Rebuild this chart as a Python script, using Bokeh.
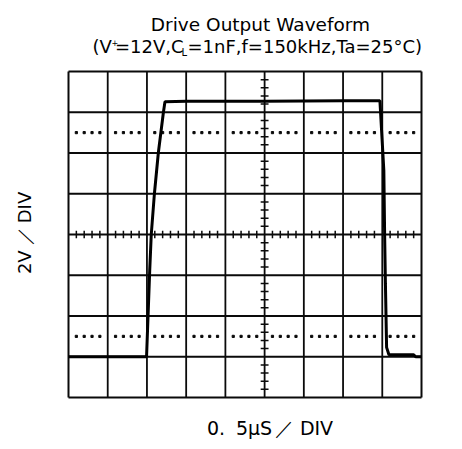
import math
from bokeh.plotting import figure
from bokeh.models import Label, Range1d
from bokeh.embed import file_html
from bokeh.resources import INLINE

# ---- data (in scope divisions) ----
n_cols = 9
n_rows = 8
center_col = 5
center_row = 4
dotted_rows = [1.5, 6.5]

wave_x = [0.0, 1.99, 2.07, 2.11, 2.19, 2.29, 2.42, 2.46, 3.0, 5.0, 7.0, 7.94,
          8.04, 8.06, 8.08, 8.11, 8.17, 8.5, 8.8, 8.85, 9.0]
wave_y = [1.0, 1.0, 3.1, 4.0, 5.0, 6.0, 7.0, 7.26, 7.27, 7.27, 7.28, 7.28,
          5.56, 4.0, 2.8, 1.23, 1.05, 1.05, 1.05, 1.0, 1.0]

title_line1 = "Drive Output Waveform"
title_pieces = ["(V", "+", "=12V,C", "L", "=1nF,f=150kHz,Ta=25°C)"]
x_label_pieces = ["0.", "5μS", "／", "DIV"]
y_label_pieces = ["2V", "／", "DIV"]

# ---- layout (page pixels) ----
W, H = 454, 441
GL, GT, GW, GH = 68, 71, 353, 326      # grid box
px_per_x = GW / n_cols
px_per_y = GH / n_rows
x0 = -GL / px_per_x
x1 = (W - GL) / px_per_x
y0 = -(H - GT - GH) / px_per_y
y1 = n_rows + GT / px_per_y

p = figure(width=W, height=H, x_range=Range1d(x0, x1), y_range=Range1d(y0, y1),
           x_axis_type=None, y_axis_type=None, output_backend="svg",
           toolbar_location=None, min_border=0)
p.grid.visible = False
p.outline_line_color = None
p.background_fill_color = "white"
p.border_fill_color = "white"

INK = "#0a0a0a"
# grid lines
vx = list(range(1, n_cols))
p.segment(x0=vx, y0=[0] * len(vx), x1=vx, y1=[n_rows] * len(vx), line_color=INK, line_width=1.8)
hy = list(range(1, n_rows))
p.segment(x0=[0] * len(hy), y0=hy, x1=[n_cols] * len(hy), y1=hy, line_color=INK, line_width=1.8)
# border
p.segment(x0=[0, 0, 0, n_cols], y0=[0, n_rows, 0, 0], x1=[n_cols, n_cols, 0, n_cols],
          y1=[0, n_rows, n_rows, n_rows], line_color=INK, line_width=2)

# minor ticks on center axes
tx = [i / 5 for i in range(1, n_cols * 5) if i % 5 != 0]
p.segment(x0=tx, y0=[center_row - 0.09] * len(tx), x1=tx, y1=[center_row + 0.09] * len(tx),
          line_color=INK, line_width=1.5)
ty = [i / 5 for i in range(1, n_rows * 5) if i % 5 != 0]
p.segment(x0=[center_col - 0.1] * len(ty), y0=ty, x1=[center_col + 0.1] * len(ty), y1=ty,
          line_color=INK, line_width=1.5)

# dotted reference rows
dx = [i / 5 for i in range(1, n_cols * 5) if i % 5 != 0]
for r in dotted_rows:
    p.scatter(x=dx, y=[r] * len(dx), marker="square", size=2.2, color=INK)

# waveform
p.line(wave_x, wave_y, line_color="black", line_width=3)

SHIFT = 0.34  # baseline correction (em)

def sx(px):
    return px

def sy(py, fs):  # page y of baseline -> screen y (upwards)
    return H - (py - SHIFT * fs)

FONT = "DejaVu Sans"
p.add_layout(Label(x=sx(260), y=sy(30.7, 18.5), x_units="screen", y_units="screen", text=title_line1,
                   text_font=FONT, text_font_size="18.5px", text_align="center",
                   text_baseline="alphabetic", text_color="black"))

# second title line, pieces with super/subscripts
tp_x = [92, 111, 114.5, 181, 187]
tp_y = [51.7, 44.5, 51.7, 55.0, 51.7]
tp_size = [18, 8, 18, 10, 18]
for t, xx, yy, fs in zip(title_pieces, tp_x, tp_y, tp_size):
    p.add_layout(Label(x=sx(xx), y=sy(yy, fs), x_units="screen", y_units="screen", text=t,
                       text_font=FONT, text_font_size=f"{fs}px", text_align="left",
                       text_baseline="alphabetic", text_color="black"))

# x label
xl_x = [215.5, 253.5, 284, 316]
for t, xx in zip(x_label_pieces, xl_x):
    p.add_layout(Label(x=sx(xx), y=sy(433.5, 19), x_units="screen", y_units="screen", text=t,
                       text_font=FONT, text_font_size="19px", text_align="center",
                       text_baseline="alphabetic", text_color="black"))

# y label (rotated)
yl_y = [261.7, 235, 207]
for t, yy in zip(y_label_pieces, yl_y):
    p.add_layout(Label(x=sx(30.5 - SHIFT * 18), y=H - yy, x_units="screen", y_units="screen", text=t,
                       text_font=FONT, text_font_size="18px", text_align="center",
                       text_baseline="alphabetic", angle=math.pi / 2, text_color="black"))

open("out.html", "w").write(file_html(p, INLINE))
